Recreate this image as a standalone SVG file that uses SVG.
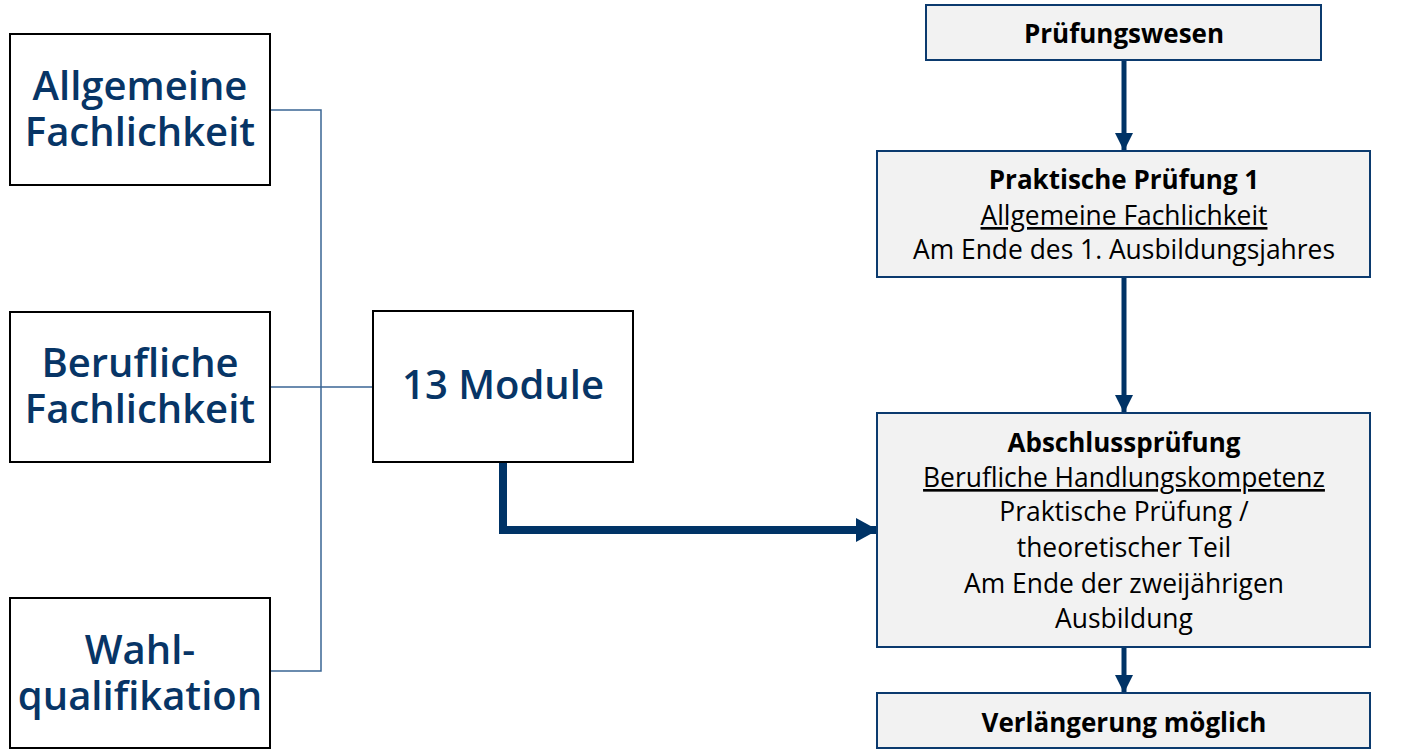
<svg xmlns="http://www.w3.org/2000/svg" width="1409" height="750" viewBox="0 0 1409 750">
<style>
.lbox{fill:#ffffff;stroke:#000000;stroke-width:2}
.rbox{fill:#f2f2f2;stroke:#0b3a6e;stroke-width:2}
.ltxt{font-family:"Open Sans","Noto Sans",sans-serif;font-weight:600;font-size:40px;fill:#073566;text-anchor:middle}
.rtxt{font-family:"Open Sans","Noto Sans",sans-serif;font-size:26.4px;fill:#000000;text-anchor:middle}
.b{font-weight:700;font-size:26px}
.u{text-decoration:underline}
.thin{fill:none;stroke:#3a6594;stroke-width:1.5}
.arr{fill:none;stroke:#003366;stroke-width:5}
.thick{fill:none;stroke:#003366;stroke-width:8}
</style>
<defs>
<marker id="ah" markerUnits="userSpaceOnUse" markerWidth="18" markerHeight="18" refX="18" refY="9" orient="auto">
<path d="M0,0 L18,9 L0,18 Z" fill="#003366"/>
</marker>
<marker id="ahb" markerUnits="userSpaceOnUse" markerWidth="22" markerHeight="24" refX="22" refY="12" orient="auto">
<path d="M0,0 L22,12 L0,24 Z" fill="#003366"/>
</marker>
</defs>
<g id="connectors">
<polyline class="thin" points="270,110 321,110 321,671 270,671"/>
<line class="thin" x1="270" y1="387" x2="373" y2="387"/>
<polyline class="thick" points="503,462 503,530 878,530" marker-end="url(#ahb)"/>
<line class="arr" x1="1124" y1="60" x2="1124" y2="151" marker-end="url(#ah)"/>
<line class="arr" x1="1124" y1="277" x2="1124" y2="413" marker-end="url(#ah)"/>
<line class="arr" x1="1124" y1="647" x2="1124" y2="693" marker-end="url(#ah)"/>
</g>
<g id="allgemeine">
<rect class="lbox" x="10" y="34" width="260" height="151"/>
<text class="ltxt" x="140" y="100">Allgemeine</text>
<text class="ltxt" x="140" y="146">Fachlichkeit</text>
</g>
<g id="berufliche">
<rect class="lbox" x="10" y="312" width="260" height="150"/>
<text class="ltxt" x="140" y="377">Berufliche</text>
<text class="ltxt" x="140" y="423">Fachlichkeit</text>
</g>
<g id="wahl">
<rect class="lbox" x="10" y="598" width="260" height="150"/>
<text class="ltxt" x="140" y="664">Wahl-</text>
<text class="ltxt" x="140" y="710">qualifikation</text>
</g>
<g id="module">
<rect class="lbox" x="373" y="311" width="260" height="151"/>
<text class="ltxt" x="503" y="399">13 Module</text>
</g>
<g id="pruefungswesen">
<rect class="rbox" x="926" y="5" width="395" height="55"/>
<text class="rtxt b" x="1124" y="43">Prüfungswesen</text>
</g>
<g id="praktische">
<rect class="rbox" x="877" y="151" width="493" height="126"/>
<text class="rtxt b" x="1124" y="189">Praktische Prüfung 1</text>
<text class="rtxt u" x="1124" y="225">Allgemeine Fachlichkeit</text>
<text class="rtxt" x="1124" y="259">Am Ende des 1. Ausbildungsjahres</text>
</g>
<g id="abschluss">
<rect class="rbox" x="877" y="413" width="493" height="234"/>
<text class="rtxt b" x="1124" y="452">Abschlussprüfung</text>
<text class="rtxt u" x="1124" y="487">Berufliche Handlungskompetenz</text>
<text class="rtxt" x="1124" y="521">Praktische Prüfung /</text>
<text class="rtxt" x="1124" y="557">theoretischer Teil</text>
<text class="rtxt" x="1124" y="593">Am Ende der zweijährigen</text>
<text class="rtxt" x="1124" y="628">Ausbildung</text>
</g>
<g id="verlaengerung">
<rect class="rbox" x="877" y="693" width="493" height="55"/>
<text class="rtxt b" x="1124" y="732">Verlängerung möglich</text>
</g>
</svg>
